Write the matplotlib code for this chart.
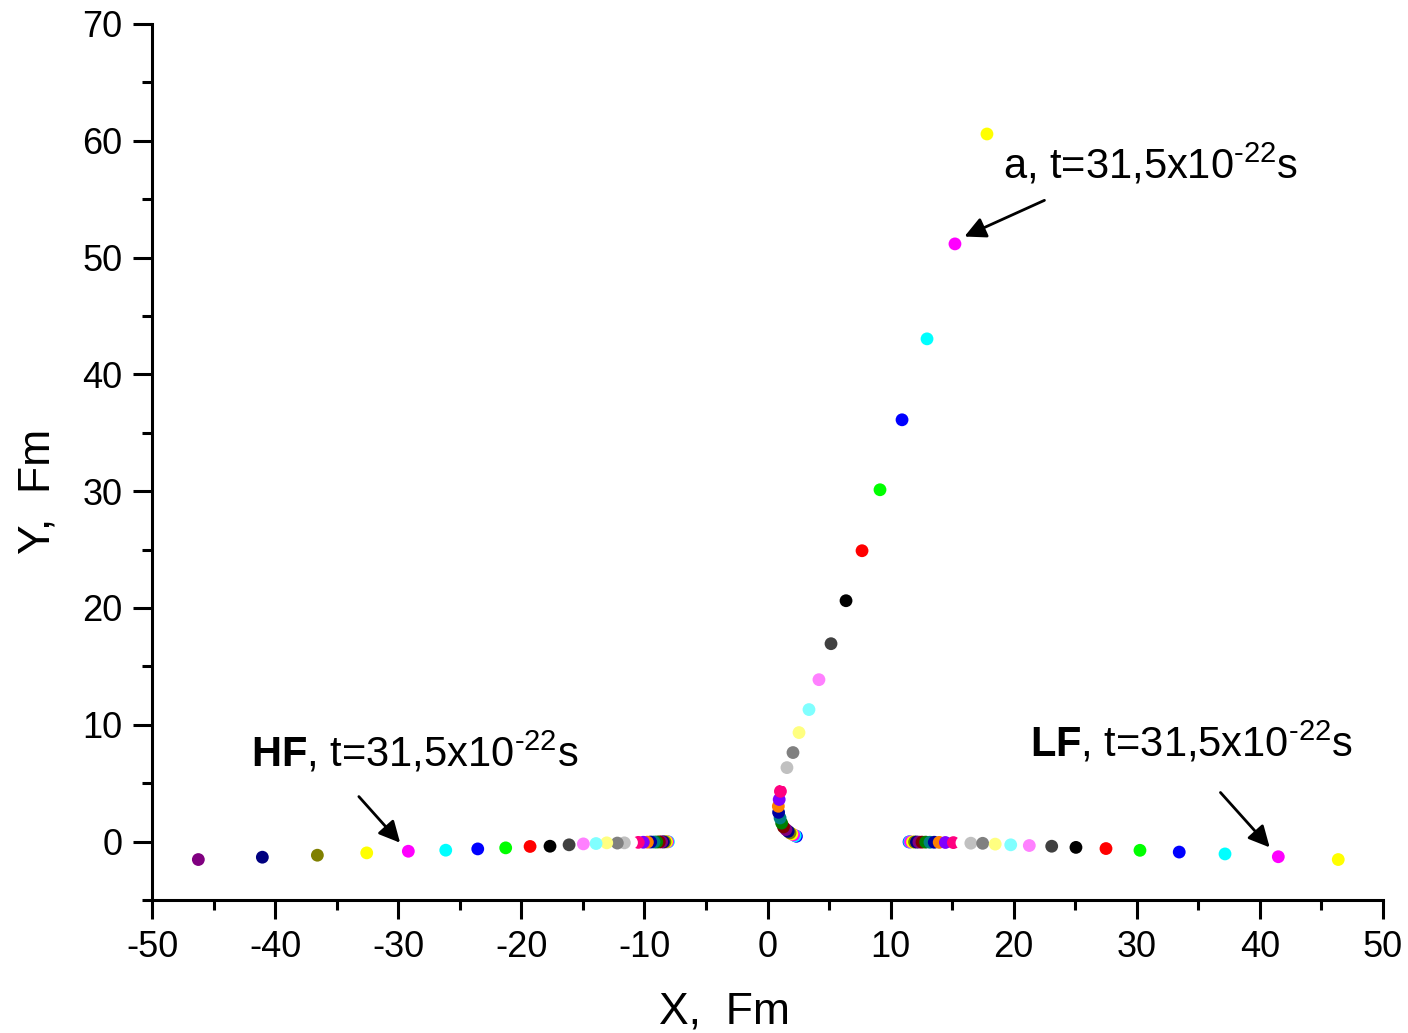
import matplotlib
matplotlib.use('Agg')
import matplotlib.pyplot as plt
from matplotlib.ticker import MultipleLocator

plt.rcParams['font.family'] = ['Liberation Sans', 'DejaVu Sans']
plt.rcParams['mathtext.fontset'] = 'custom'
plt.rcParams['mathtext.rm'] = 'Liberation Sans'
plt.rcParams['mathtext.bf'] = 'Liberation Sans:bold'
plt.rcParams['mathtext.default'] = 'regular'
plt.rcParams['axes.unicode_minus'] = False

# Origin default colour cycle
palette = ['#000000', '#FF0000', '#00FF00', '#0000FF', '#00FFFF', '#FF00FF',
           '#FFFF00', '#808000', '#000080', '#800080', '#800000', '#008000',
           '#008080', '#0000A0', '#FF8000', '#8000FF', '#FF0080', '#FFFFFF',
           '#C0C0C0', '#808080', '#FFFF80', '#80FFFF', '#FF80FF', '#404040']

# heavy fragment (left), first point colour = cyan
hf_x = [-8.05, -8.12, -8.2, -8.33, -8.46, -8.6, -8.79, -9.0, -9.22, -9.49,
        -9.76, -10.09, -10.5, -11.05, -11.63, -12.2, -13.06, -13.93, -14.96, -16.12,
        -17.67, -19.29, -21.27, -23.54, -26.14, -29.18, -32.56, -36.57, -41.04, -46.24]
hf_y = [-0.02, -0.02, -0.02, -0.03, -0.03, -0.03, -0.03, -0.04, -0.04, -0.04,
        -0.05, -0.06, -0.07, -0.09, -0.11, -0.13, -0.11, -0.17, -0.2, -0.28,
        -0.4, -0.42, -0.54, -0.63, -0.74, -0.83, -0.97, -1.17, -1.34, -1.54]
hf_start = 4

# light fragment (right), first point colour = blue
lf_x = [11.5, 11.55, 11.62, 11.78, 11.95, 12.1, 12.3, 12.55, 12.85, 13.2,
        13.55, 13.95, 14.45, 15.1, 15.8, 16.52, 17.48, 18.5, 19.76, 21.27,
        23.09, 25.06, 27.5, 30.26, 33.45, 37.17, 41.5, 46.37]
lf_y = [-0.03, -0.03, -0.03, -0.04, -0.04, -0.04, -0.05, -0.05, -0.05, -0.06,
        -0.06, -0.07, -0.08, -0.09, -0.11, -0.14, -0.15, -0.22, -0.28, -0.34,
        -0.4, -0.5, -0.6, -0.75, -0.9, -1.06, -1.3, -1.54]
lf_start = 3

# alpha particle, first point colour = blue
a_x = [2.35, 2.25, 2.12, 1.98, 1.83, 1.68, 1.5, 1.3, 1.15, 1.02,
       0.9, 0.88, 0.95, 1.05, 1.3, 1.58, 2.07, 2.56, 3.37, 4.18,
       5.16, 6.38, 7.68, 9.14, 10.93, 12.96, 15.23, 17.83]
a_y = [0.45, 0.5, 0.57, 0.65, 0.74, 0.87, 1.03, 1.25, 1.58, 2.02,
       2.5, 3.02, 3.6, 4.3, 5.3, 6.33, 7.62, 9.33, 11.3, 13.86,
       16.94, 20.62, 24.9, 30.12, 36.11, 43.04, 51.17, 60.58]
a_start = 3

label_txt = r't=31,5x10$^{\text{-22}}$s'

fig = plt.figure(figsize=(14.08, 10.33), dpi=100)
ax = fig.add_axes([0.108, 0.1288, 0.8742, 0.848])

for xs, ys, st in [(hf_x, hf_y, hf_start), (lf_x, lf_y, lf_start), (a_x, a_y, a_start)]:
    cols = [palette[(st + i) % 24] for i in range(len(xs))]
    ax.scatter(xs, ys, s=85, c=cols, linewidths=0, zorder=3)

ax.set_xlim(-50, 50)
ax.set_ylim(-5, 70)
ax.xaxis.set_major_locator(MultipleLocator(10))
ax.xaxis.set_minor_locator(MultipleLocator(5))
ax.yaxis.set_major_locator(MultipleLocator(10))
ax.yaxis.set_minor_locator(MultipleLocator(5))

for s in ['top', 'right']:
    ax.spines[s].set_visible(False)
for s in ['left', 'bottom']:
    ax.spines[s].set_linewidth(2.2)
ax.tick_params(which='major', length=13.5, width=2.2, labelsize=26, pad=8, direction='out')
ax.tick_params(which='minor', length=7, width=2.2, direction='out')

ax.set_xlabel('X,  Fm', fontsize=32)
ax.set_ylabel('Y,  Fm', fontsize=32)
ax.xaxis.set_label_coords(0.465, -0.105)
ax.yaxis.set_label_coords(-0.076, 0.466)

arr = dict(arrowstyle='-|>', color='black', lw=2, mutation_scale=32, shrinkA=0, shrinkB=0)
ax.text(19.1, 56.8, 'a, ' + label_txt, fontsize=30)
ax.annotate('', xy=(16.0, 51.8), xytext=(22.5, 54.9), arrowprops=arr)
ax.text(-42.0, 6.4, r'$\mathbf{HF}$, ' + label_txt, fontsize=30)
ax.annotate('', xy=(-29.85, -0.1), xytext=(-33.2, 3.85), arrowprops=arr)
ax.text(21.3, 7.3, r'$\mathbf{LF}$, ' + label_txt, fontsize=30)
ax.annotate('', xy=(40.8, -0.5), xytext=(36.8, 4.2), arrowprops=arr)

fig.savefig('out.png', dpi=100)
